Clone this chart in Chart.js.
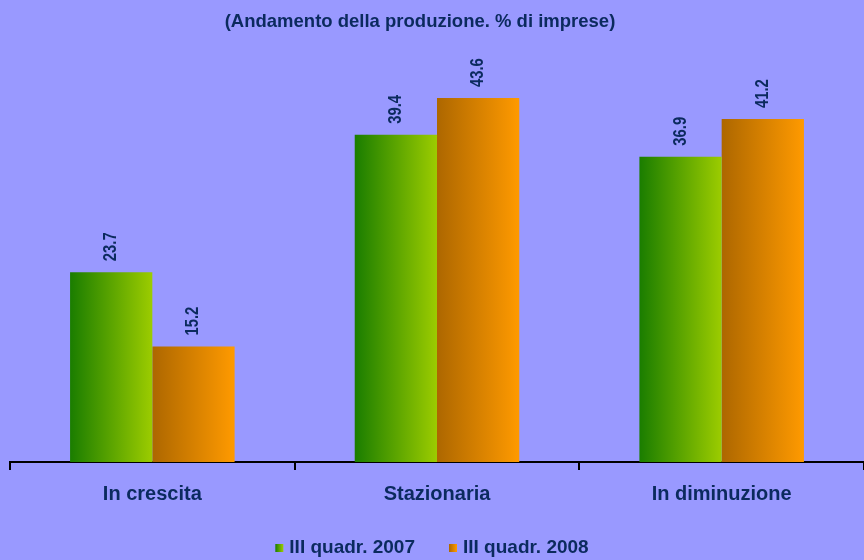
<!DOCTYPE html>
<html>
<head>
<meta charset="utf-8">
<script src="https://cdn.jsdelivr.net/npm/chart.js@4/dist/chart.umd.min.js"></script>
<style>
  html, body { margin: 0; padding: 0; background: #9999ff; }
  #wrap { width: 864px; height: 560px; }
</style>
</head>
<body>
<div id="wrap"><canvas id="myChart" width="864" height="560"></canvas></div>
<script>
const categories = ['In crescita', 'Stazionaria', 'In diminuzione']
const seriesNames = ['III quadr. 2007', 'III quadr. 2008']
const values2007 = [23.7, 39.4, 36.9]
const values2008 = [15.2, 43.6, 41.2]
const chartTitle = '(Andamento della produzione. % di imprese)'

const navy = '#0b2a5e'
const fontFamily = '"Liberation Sans", Arial, sans-serif'
const catPct = 0.578
const seriesColors = [['#1a7d00', '#9ccc00'], ['#ad6700', '#ff9a00']]

// horizontal gradient across each bar, computed from the x scale
function barGradient (side) {
  const [colorFrom, colorTo] = seriesColors[side]
  return (context) => {
    const chart = context.chart
    const x = chart.scales.x
    if (!x || !chart.chartArea || context.dataIndex === undefined) return colorTo
    const center = x.getPixelForValue(context.dataIndex)
    const w = (chart.chartArea.width / categories.length) * catPct / 2
    const left = side === 0 ? center - w : center
    const g = chart.ctx.createLinearGradient(left, 0, left + w, 0)
    g.addColorStop(0, colorFrom)
    g.addColorStop(1, colorTo)
    return g
  }
}

const titlePlugin = {
  id: 'customTitle',
  afterDraw (chart) {
    const ctx = chart.ctx
    ctx.save()
    ctx.font = 'bold 18.5px ' + fontFamily
    ctx.fillStyle = navy
    ctx.textAlign = 'center'
    ctx.textBaseline = 'middle'
    ctx.fillText(chartTitle, 420, 22)
    ctx.restore()
  }
}

// legend drawn by hand so the little boxes keep their gradient
const legendPlugin = {
  id: 'customLegend',
  afterDraw (chart) {
    const ctx = chart.ctx
    ctx.save()
    ctx.font = 'bold 19px ' + fontFamily
    ctx.textBaseline = 'alphabetic'
    ctx.textAlign = 'left'
    const box = 8
    const gapBox = 6
    const gapItem = 34
    const widths = seriesNames.map(n => box + gapBox + ctx.measureText(n).width)
    const total = widths.reduce((a, b) => a + b, 0) + gapItem * (seriesNames.length - 1)
    let x = chart.width / 2 - total / 2
    const baseline = 553
    seriesNames.forEach((name, i) => {
      const g = ctx.createLinearGradient(x, 0, x + box, 0)
      g.addColorStop(0, seriesColors[i][0])
      g.addColorStop(1, seriesColors[i][1])
      ctx.fillStyle = g
      ctx.fillRect(x, baseline - 9, box, box)
      ctx.fillStyle = navy
      ctx.fillText(name, x + box + gapBox, baseline)
      x += widths[i] + gapItem
    })
    ctx.restore()
  }
}

// rotated value labels, squeezed a little like the original
const valueLabels = {
  id: 'valueLabels',
  afterDatasetsDraw (chart) {
    const ctx = chart.ctx
    ctx.save()
    ctx.font = 'bold 18px ' + fontFamily
    ctx.fillStyle = navy
    ctx.textAlign = 'left'
    ctx.textBaseline = 'middle'
    chart.data.datasets.forEach((ds, i) => {
      chart.getDatasetMeta(i).data.forEach((el, j) => {
        ctx.save()
        ctx.translate(el.x, el.y - 11)
        ctx.rotate(-Math.PI / 2)
        ctx.scale(0.82, 1)
        ctx.fillText(ds.data[j].toFixed(1), 0, 0)
        ctx.restore()
      })
    })
    ctx.restore()
  }
}

const config = {
  type: 'bar',
  data: {
    labels: categories,
    datasets: [
      { label: seriesNames[0], data: values2007, backgroundColor: barGradient(0), borderWidth: 0 },
      { label: seriesNames[1], data: values2008, backgroundColor: barGradient(1), borderWidth: 0 }
    ]
  },
  options: {
    responsive: false,
    animation: false,
    layout: {
      padding: { top: 42, left: 10, right: 0, bottom: 42 }
    },
    datasets: {
      bar: { barPercentage: 1, categoryPercentage: catPct }
    },
    scales: {
      x: {
        grid: {
          display: true,
          offset: true,
          drawOnChartArea: false,
          color: '#000000',
          tickLength: 8,
          lineWidth: 2
        },
        border: { display: true, color: '#000000', width: 2 },
        ticks: {
          color: navy,
          font: { family: fontFamily, size: 20, weight: 'bold' },
          padding: 12
        }
      },
      y: {
        display: false,
        min: 2,
        max: 50
      }
    },
    plugins: {
      title: { display: false },
      tooltip: { enabled: false },
      legend: { display: false }
    }
  },
  plugins: [titlePlugin, valueLabels, legendPlugin]
}

const myChart = new Chart(document.getElementById('myChart').getContext('2d'), config)
</script>
</body>
</html>
